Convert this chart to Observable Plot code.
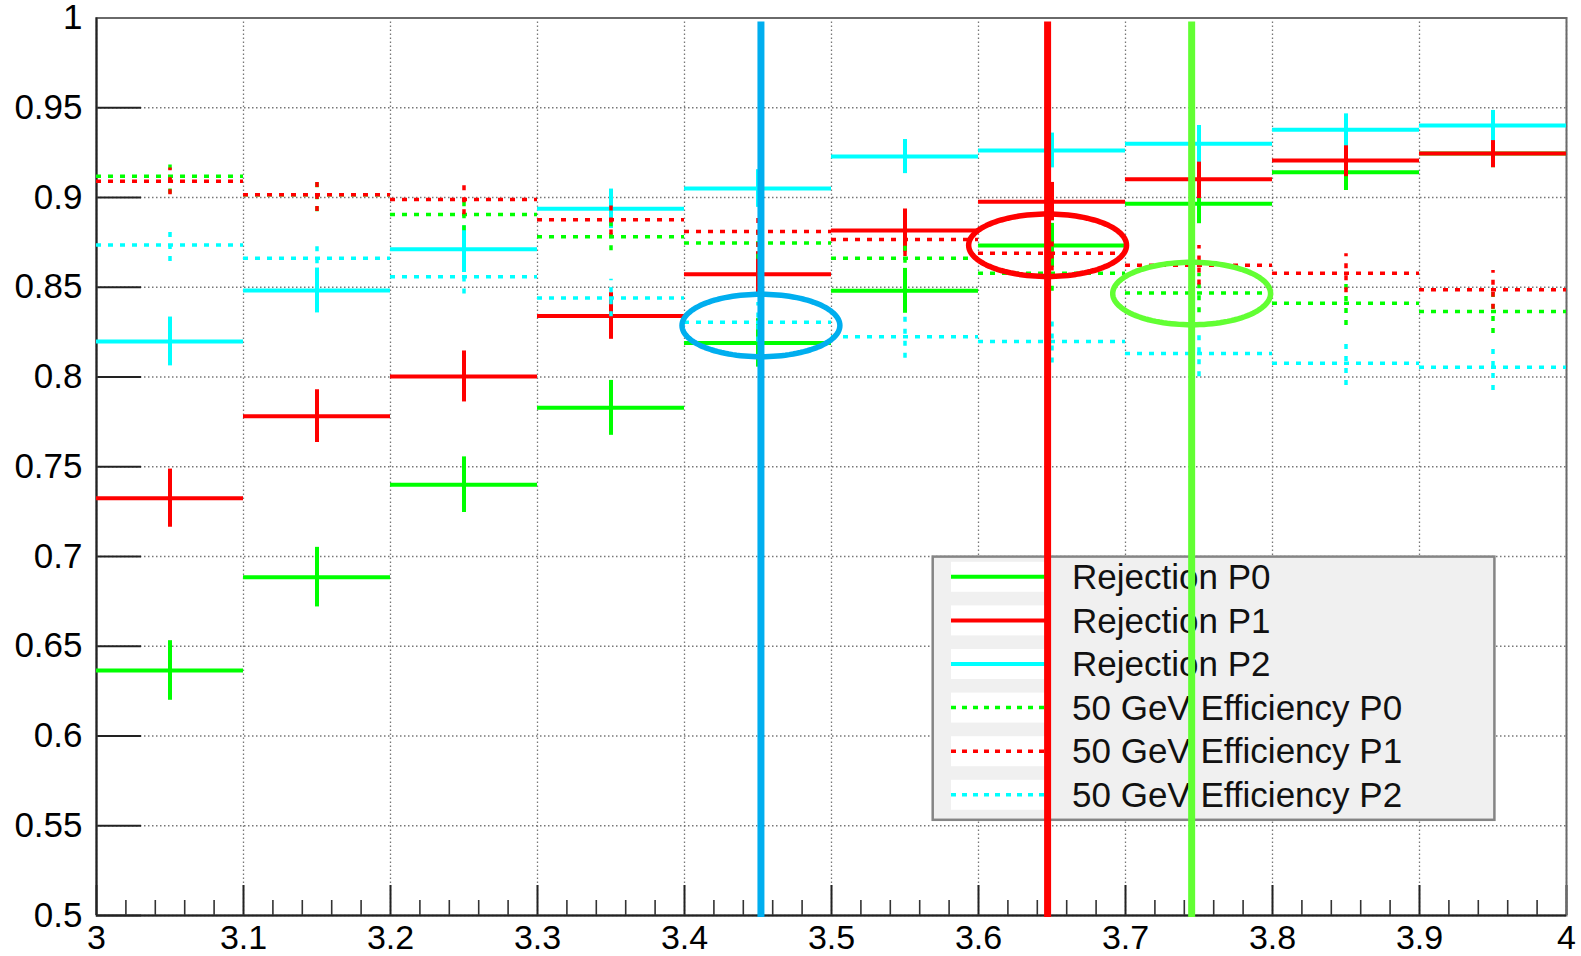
<!DOCTYPE html>
<html>
<head>
<meta charset="utf-8">
<script src="https://cdn.jsdelivr.net/npm/d3@7"></script>
<script src="https://cdn.jsdelivr.net/npm/@observablehq/plot@0.6"></script>
<style>
html, body { margin: 0; padding: 0; background: #fff; }
#chart svg { display: block; }
</style>
</head>
<body>
<div id="chart"></div>
<script>
// ---------- data ----------
const binEdges = [3.0, 3.1, 3.2, 3.3, 3.4, 3.5, 3.6, 3.7, 3.8, 3.9, 4.0];

const rejP0    = [0.6365, 0.6885, 0.7400, 0.7828, 0.8190, 0.8480, 0.8733, 0.8965, 0.9141, 0.9245];
const rejP0Err = [0.0166, 0.0166, 0.0155, 0.0153, 0.0135, 0.0125, 0.0123, 0.0111, 0.0102, 0.0079];
const rejP1    = [0.7325, 0.7782, 0.8003, 0.8340, 0.8573, 0.8816, 0.8977, 0.9102, 0.9206, 0.9245];
const rejP1Err = [0.0162, 0.0147, 0.0142, 0.0130, 0.0125, 0.0120, 0.0107, 0.0108, 0.0090, 0.0079];
const rejP2    = [0.8198, 0.8482, 0.8712, 0.8937, 0.9050, 0.9228, 0.9262, 0.9299, 0.9377, 0.9401];
const rejP2Err = [0.0136, 0.0125, 0.0130, 0.0110, 0.0105, 0.0095, 0.0097, 0.0102, 0.0089, 0.0084];
const effP0    = [0.9119, 0.9015, 0.8905, 0.8782, 0.8746, 0.8662, 0.8578, 0.8468, 0.8411, 0.8365];
const effP0Err = [0.0100, 0.0095, 0.0090, 0.0078, 0.0090, 0.0095, 0.0100, 0.0110, 0.0124, 0.0123];
const effP1    = [0.9090, 0.9015, 0.8989, 0.8876, 0.8811, 0.8766, 0.8690, 0.8623, 0.8578, 0.8486];
const effP1Err = [0.0075, 0.0093, 0.0085, 0.0085, 0.0090, 0.0095, 0.0100, 0.0110, 0.0108, 0.0108];
const effP2    = [0.8736, 0.8662, 0.8558, 0.8440, 0.8305, 0.8224, 0.8198, 0.8131, 0.8077, 0.8055];
const effP2Err = [0.0093, 0.0098, 0.0095, 0.0105, 0.0110, 0.0120, 0.0120, 0.0130, 0.0125, 0.0130];

const seriesNames  = ["Rejection P0", "Rejection P1", "Rejection P2",
                      "50 GeV Efficiency P0", "50 GeV Efficiency P1", "50 GeV Efficiency P2"];
const seriesValues = [rejP0, rejP1, rejP2, effP0, effP1, effP2];
const seriesErrors = [rejP0Err, rejP1Err, rejP2Err, effP0Err, effP1Err, effP2Err];

const xTicks = [3, 3.1, 3.2, 3.3, 3.4, 3.5, 3.6, 3.7, 3.8, 3.9, 4];
const xTickLabels = ["3", "3.1", "3.2", "3.3", "3.4", "3.5", "3.6", "3.7", "3.8", "3.9", "4"];
const yTicks = [0.5, 0.55, 0.6, 0.65, 0.7, 0.75, 0.8, 0.85, 0.9, 0.95, 1];
const yTickLabels = ["0.5", "0.55", "0.6", "0.65", "0.7", "0.75", "0.8", "0.85", "0.9", "0.95", "1"];

// hand-drawn annotations (vertical lines + ellipses), in data units
const annotX       = [3.452, 3.647, 3.745];
const annotEllipseY = [0.8287, 0.8734, 0.8465];
const annotEllipseRx = 0.0537;
const annotEllipseRy = 0.0174;

// ---------- styles ----------
const seriesColors = ["#00ff00", "#ff0000", "#00ffff", "#00ff00", "#ff0000", "#00ffff"];
const seriesDotted = [false, false, false, true, true, true];
const annotColors  = ["#00aeef", "#ff0000", "#62ff33"];

const W = 1581, H = 956;
const mL = 96, mR = 15, mT = 17.5, mB = 41;
const plotW = W - mL - mR, plotH = H - mT - mB;
const FONT = "'Liberation Sans', Arial, Helvetica, sans-serif";

// ---------- tables ----------
const seriesRows = seriesValues.map((vals, s) => vals.map((v, i) => ({
  s, lo: binEdges[i], hi: binEdges[i + 1], xc: (binEdges[i] + binEdges[i + 1]) / 2,
  v, e: seriesErrors[s][i]
})));

const xMinor = d3.range(0, 51).map(i => 3 + i * 0.02)
  .filter(t => Math.abs(t * 10 - Math.round(t * 10)) > 1e-6);

const ellipsePts = annotX.map((cx, k) => d3.range(0, 121).map(j => {
  const a = (j / 120) * 2 * Math.PI;
  return {x: cx + annotEllipseRx * Math.cos(a), y: annotEllipseY[k] + annotEllipseRy * Math.sin(a)};
}));

// ---------- legend (drawn inside the frame, beneath the annotations) ----------
function legendMark() {
  const g = d3.create("svg:g").attr("text-anchor", "start");
  const bx = 932.7, by = 556.6, bw = 561.7, bh = 263.2;
  g.append("rect").attr("x", bx).attr("y", by).attr("width", bw).attr("height", bh)
    .attr("fill", "#f0f0f0").attr("stroke", "#858585").attr("stroke-width", 2.5);
  seriesNames.forEach((name, i) => {
    const cy = 576.8 + i * 43.6;
    g.append("rect").attr("x", 951).attr("y", cy - 15).attr("width", 95).attr("height", 30)
      .attr("fill", "#ffffff");
    g.append("line").attr("x1", 951).attr("x2", 1046).attr("y1", cy).attr("y2", cy)
      .attr("stroke", seriesColors[i]).attr("stroke-width", seriesDotted[i] ? 3.5 : 4)
      .attr("stroke-dasharray", seriesDotted[i] ? "5,6" : null);
    g.append("text").attr("x", 1072).attr("y", cy).attr("dy", "0.35em")
      .attr("text-anchor", "start")
      .attr("font-size", 35).attr("font-family", FONT).attr("fill", "#111")
      .text(name);
  });
  return g.node();
}

// ---------- marks ----------
const dataMarks = [];
seriesRows.forEach((rows, s) => {
  const dash = seriesDotted[s] ? "5,7" : null;
  const sw = seriesDotted[s] ? 3.5 : 4;
  dataMarks.push(Plot.ruleY(rows, {x1: "lo", x2: "hi", y: "v", stroke: seriesColors[s], strokeWidth: sw, strokeDasharray: dash}));
  dataMarks.push(Plot.ruleX(rows, {x: "xc", y1: d => d.v - d.e, y2: d => d.v + d.e, stroke: seriesColors[s], strokeWidth: sw, strokeDasharray: dash}));
});

const annotMarks = [];
annotX.forEach((ax, k) => {
  annotMarks.push(Plot.line(ellipsePts[k], {x: "x", y: "y", stroke: annotColors[k], strokeWidth: 5.5, curve: "linear-closed"}));
  annotMarks.push(Plot.ruleX([ax], {stroke: annotColors[k], strokeWidth: 7, insetTop: 4, insetBottom: -2}));
});

const chart = Plot.plot({
  width: W, height: H,
  marginLeft: mL, marginRight: mR, marginTop: mT, marginBottom: mB,
  style: {fontFamily: FONT, background: "#fff", overflow: "visible"},
  x: {domain: [3, 4], label: null},
  y: {domain: [0.5, 1], label: null},
  marks: [
    Plot.gridX(xTicks, {stroke: "#777", strokeOpacity: 1, strokeWidth: 1.3, strokeDasharray: "1.5,2.5"}),
    Plot.gridY(yTicks, {stroke: "#777", strokeOpacity: 1, strokeWidth: 1.3, strokeDasharray: "1.5,2.5"}),
    Plot.tickY(yTicks, {y: d => d, stroke: "#222", strokeWidth: 2, insetRight: plotW - 45}),
    Plot.tickX(xTicks, {x: d => d, stroke: "#222", strokeWidth: 2, insetTop: plotH - 30}),
    Plot.tickX(xMinor, {x: d => d, stroke: "#333", strokeWidth: 1.6, insetTop: plotH - 15}),
    Plot.frame({stroke: "#6a6a6a", strokeWidth: 2}),
    Plot.ruleX([3], {stroke: "#222", strokeWidth: 2}),
    Plot.ruleY([0.5], {stroke: "#222", strokeWidth: 2}),
    Plot.axisY(yTicks, {tickSize: 0, tickPadding: 14, fontSize: 35, label: null,
      tickFormat: d => yTickLabels[yTicks.indexOf(d)]}),
    Plot.axisX(xTicks, {tickSize: 0, tickPadding: 9, fontSize: 34, label: null,
      tickFormat: d => xTickLabels[xTicks.indexOf(d)]}),
    ...dataMarks,
    legendMark,
    ...annotMarks
  ]
});
document.getElementById("chart").appendChild(chart);
</script>
</body>
</html>
